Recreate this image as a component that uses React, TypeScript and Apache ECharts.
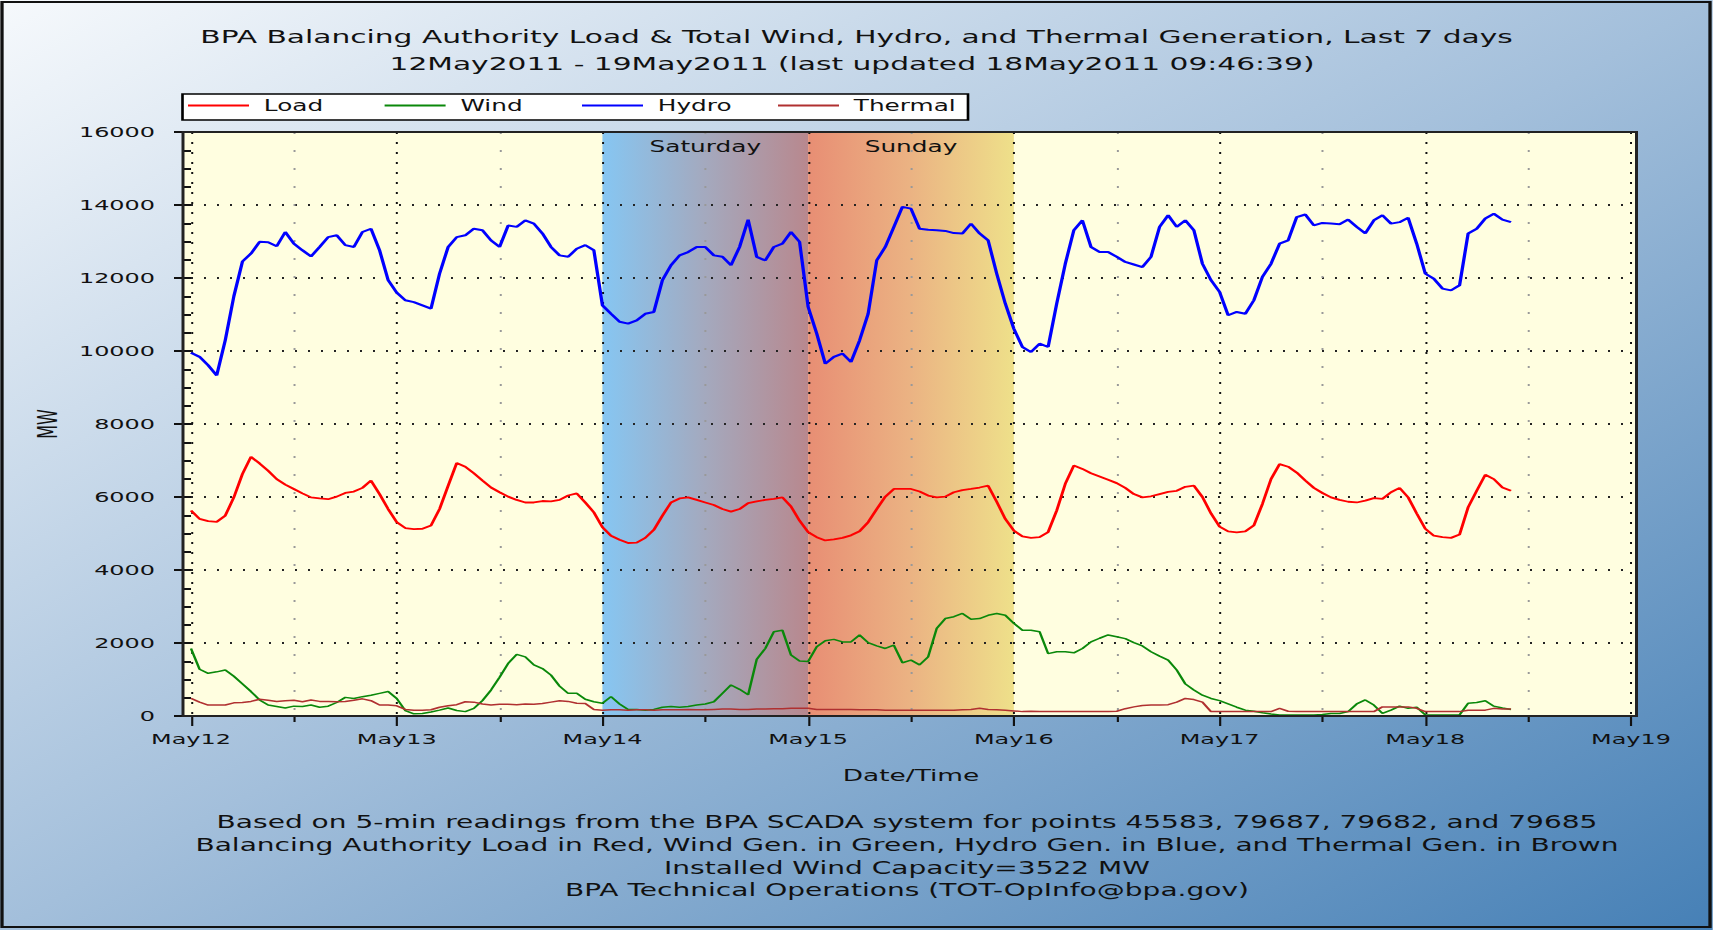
import React, { useEffect, useRef } from "react";
import * as echarts from "echarts";

// ---------------- data (hourly readings from 12 May 2011 00:00) ----------------
const DAY_LABELS = ["May12", "May13", "May14", "May15", "May16", "May17", "May18", "May19"];
const SERIES_NAMES = ["Load", "Wind", "Hydro", "Thermal"];
const WEEKEND = [
  { name: "Saturday", from: 2, to: 3 },
  { name: "Sunday", from: 3, to: 4 },
];

const LOAD = [
  5630, 5400, 5340, 5320, 5490, 5990, 6630, 7100, 6920, 6720,
  6490, 6340, 6220, 6100, 5990, 5960, 5940, 6010, 6110, 6150,
  6250, 6450, 6080, 5670, 5310, 5150, 5120, 5130, 5220, 5670,
  6310, 6930, 6830, 6650, 6450, 6260, 6130, 6010, 5920, 5850,
  5850, 5890, 5880, 5920, 6040, 6100, 5850, 5580, 5170, 4940,
  4830, 4740, 4750, 4880, 5100, 5490, 5850, 5960, 5990, 5920,
  5850, 5780, 5670, 5600, 5670, 5830, 5880, 5920, 5950, 5990,
  5740, 5350, 5040, 4900, 4810, 4840, 4880, 4950, 5060, 5310,
  5670, 6010, 6220, 6220, 6220, 6150, 6040, 5990, 6010, 6130,
  6190, 6220, 6260, 6310, 5870, 5400, 5080, 4920, 4880, 4900,
  5040, 5630, 6360, 6860, 6770, 6650, 6560, 6470, 6380, 6250,
  6080, 5990, 6020, 6080, 6140, 6170, 6280, 6310, 6000, 5550,
  5190, 5060, 5030, 5060, 5220, 5810, 6490, 6900, 6830, 6670,
  6450, 6250, 6110, 5990, 5920, 5870, 5850, 5900, 5970, 5950,
  6130, 6250, 5990, 5550, 5130, 4940, 4900, 4880, 4970, 5720,
  6170, 6610, 6490, 6260, 6170,
];

const WIND = [
  1850, 1280, 1170, 1210, 1260, 1090, 880, 670, 440, 300,
  260, 220, 270, 260, 300, 240, 270, 370, 510, 480,
  530, 570, 620, 670, 480, 150, 60, 70, 110, 160,
  220, 150, 120, 210, 420, 710, 1060, 1440, 1690, 1620,
  1400, 1300, 1120, 820, 620, 620, 460, 390, 350, 530,
  330, 180, 180, 160, 180, 240, 260, 240, 260, 300,
  330, 390, 620, 850, 730, 580, 1550, 1850, 2310, 2350,
  1670, 1510, 1490, 1900, 2060, 2100, 2030, 2030, 2220, 2010,
  1920, 1850, 1940, 1460, 1530, 1400, 1620, 2400, 2670, 2720,
  2810, 2650, 2670, 2760, 2810, 2760, 2540, 2350, 2350, 2310,
  1710, 1760, 1760, 1730, 1850, 2030, 2130, 2220, 2170, 2120,
  2010, 1920, 1760, 1640, 1530, 1260, 880, 710, 570, 480,
  420, 330, 240, 160, 130, 90, 55, 30, 30, 30,
  30, 30, 40, 70, 70, 120, 330, 440, 300, 70,
  160, 270, 210, 240, 30, 30, 30, 30, 30, 350,
  370, 420, 270, 220, 180,
];

const HYDRO = [
  9950, 9840, 9610, 9330, 10300, 11500, 12450, 12670, 12990, 12980,
  12870, 13260, 12940, 12760, 12590, 12850, 13120, 13170, 12900, 12850,
  13260, 13350, 12760, 11940, 11600, 11390, 11340, 11250, 11160, 12120,
  12850, 13120, 13170, 13350, 13310, 13030, 12850, 13440, 13400, 13580,
  13490, 13220, 12850, 12620, 12580, 12800, 12900, 12760, 11250, 11020,
  10800, 10750, 10840, 11020, 11070, 11940, 12350, 12620, 12710, 12850,
  12850, 12620, 12580, 12350, 12850, 13600, 12580, 12480, 12850, 12940,
  13260, 12990, 11210, 10480, 9650, 9840, 9930, 9700, 10290, 11020,
  12480, 12850, 13400, 13950, 13900, 13350, 13320, 13310, 13290, 13230,
  13220, 13490, 13220, 13030, 12120, 11300, 10610, 10110, 9970, 10200,
  10110, 11300, 12390, 13310, 13580, 12850, 12710, 12710, 12580, 12440,
  12370, 12300, 12580, 13400, 13720, 13400, 13580, 13310, 12390, 11940,
  11620, 10980, 11070, 11020, 11390, 12030, 12390, 12940, 13030, 13670,
  13740, 13440, 13510, 13490, 13470, 13600, 13400, 13220, 13580, 13720,
  13490, 13530, 13650, 12940, 12120, 11980, 11710, 11660, 11800, 13220,
  13350, 13630, 13760, 13600, 13530,
];

const THERMAL = [
  480, 380, 300, 300, 300, 360, 370, 400, 460, 430,
  400, 420, 430, 390, 440, 400, 400, 390, 400, 430,
  470, 420, 300, 300, 280, 180, 160, 160, 170, 240,
  280, 310, 390, 380, 330, 300, 320, 320, 310, 330,
  320, 340, 380, 420, 400, 350, 340, 180, 160, 170,
  170, 160, 170, 170, 160, 170, 170, 170, 180, 170,
  170, 180, 190, 190, 180, 180, 190, 190, 200, 200,
  210, 210, 210, 180, 180, 180, 180, 180, 170, 170,
  170, 160, 160, 160, 160, 160, 160, 160, 160, 160,
  170, 180, 210, 180, 170, 160, 140, 120, 130, 120,
  120, 120, 120, 120, 120, 120, 120, 120, 130, 200,
  250, 290, 300, 300, 310, 380, 480, 450, 380, 120,
  120, 120, 120, 120, 120, 120, 120, 210, 130, 120,
  120, 120, 120, 120, 120, 120, 120, 120, 120, 250,
  250, 250, 250, 210, 120, 120, 120, 120, 120, 160,
  160, 160, 210, 190, 190,
];

const TITLE_1 = "BPA Balancing Authority Load & Total Wind, Hydro, and Thermal Generation, Last 7 days";
const TITLE_2 = "12May2011 - 19May2011 (last updated 18May2011 09:46:39)";
const FOOTER = [
  "Based on 5-min readings from the BPA SCADA system for points 45583, 79687, 79682, and 79685",
  "Balancing Authority Load in Red, Wind Gen. in Green, Hydro Gen. in Blue, and Thermal Gen. in Brown",
  "Installed Wind Capacity=3522 MW",
  "BPA Technical Operations (TOT-OpInfo@bpa.gov)",
];

// ---------------- layout ----------------
const K = 1.65; // the reference picture is stretched horizontally
const FULL_W = 1713;
const H = 930;
const W = FULL_W / K;
const px = (v: number) => v / K;
const FONT = "DejaVu Sans";
const LEGEND_LEFT = [188, 384.6, 582, 778]; // full-width px of each legend item's start

const COLORS = { Load: "#ff0000", Wind: "#0a880a", Hydro: "#0000ff", Thermal: "#b03030" };

const toPoints = (arr: number[]) => arr.map((v, i) => [i / 24, v]);

function buildOption() {
  const satGrad = new echarts.graphic.LinearGradient(0, 0, 1, 0, [
    { offset: 0, color: "#86c6f2" },
    { offset: 0.5, color: "#a4a9be" },
    { offset: 1, color: "#b8888e" },
  ]);
  const sunGrad = new echarts.graphic.LinearGradient(0, 0, 1, 0, [
    { offset: 0, color: "#e88e74" },
    { offset: 0.5, color: "#ebb383" },
    { offset: 1, color: "#eee08a" },
  ]);
  const bandColors = [satGrad, sunGrad];

  const text = (x: number, y: number, t: string, size: number) => ({
    type: "text",
    x: px(x),
    y,
    silent: true,
    z: 50,
    style: {
      text: t,
      fontSize: size,
      fontFamily: FONT,
      fill: "#111",
      align: "center",
      verticalAlign: "middle",
      textAlign: "center",
      textVerticalAlign: "middle",
    },
  });

  const legends = SERIES_NAMES.map((name, i) => ({
    data: [name],
    left: px(LEGEND_LEFT[i]),
    top: 98,
    padding: 0,
    itemGap: 0,
    itemWidth: px(61),
    itemHeight: 2,
    icon: "rect",
    selectedMode: false,
    textStyle: {
      fontSize: 15,
      fontFamily: FONT,
      color: "#111",
      padding: [0, 0, 0, 4],
    },
  }));

  return {
    animation: false,
    backgroundColor: new echarts.graphic.LinearGradient(0, 0, 1, 1, [
      { offset: 0, color: "#f6f9fc" },
      { offset: 0.5, color: "#a3bfdb" },
      { offset: 1, color: "#4680b6" },
    ]),
    textStyle: { fontFamily: FONT },
    grid: {
      left: px(191),
      right: px(FULL_W - 1631),
      top: 132,
      bottom: H - 716,
      containLabel: false,
    },
    legend: legends,
    xAxis: {
      type: "value",
      min: 0,
      max: 7,
      interval: 1,
      z: 1.5,
      axisLine: { show: false },
      axisTick: { show: true, length: 10, lineStyle: { color: "#111", width: 1.3 } },
      minorTick: { show: true, splitNumber: 2, length: 6, lineStyle: { color: "#111", width: 1.3 } },
      axisLabel: {
        margin: 16,
        fontSize: 14.5,
        fontFamily: FONT,
        color: "#111",
        formatter: (v: number) => DAY_LABELS[Math.round(v)] ?? "",
      },
      splitLine: { show: true, lineStyle: { color: "#111", width: 1.2, type: [2, 8] } },
      minorSplitLine: { show: true, lineStyle: { color: "#999", width: 1.2, type: [2, 16] } },
      name: "Date/Time",
      nameLocation: "middle",
      nameGap: 51,
      nameTextStyle: { fontSize: 16, fontFamily: FONT, color: "#111" },
    },
    yAxis: {
      type: "value",
      min: 0,
      max: 16000,
      interval: 2000,
      offset: px(8),
      z: 1.5,
      axisLine: { show: false },
      axisTick: { show: true, length: px(17), lineStyle: { color: "#111", width: 2 } },
      minorTick: { show: true, splitNumber: 4, length: px(8), lineStyle: { color: "#111", width: 2 } },
      axisLabel: {
        margin: px(28),
        fontSize: 14.5,
        fontFamily: FONT,
        color: "#111",
        formatter: (v: number) => String(v),
      },
      splitLine: { show: true, lineStyle: { color: "#222", width: 2, type: [1.2, px(13) - 1.2] } },
      name: "MW",
      nameLocation: "middle",
      nameGap: 68,
      nameTextStyle: { fontSize: 16, fontFamily: FONT, color: "#111" },
    },
    graphic: [
      {
        type: "rect",
        silent: true,
        z: -10,
        shape: { x: px(183), y: 132, width: px(1636.5 - 183), height: 584 },
        style: { fill: "#fffee0" },
      },
      {
        type: "rect",
        silent: true,
        z: 100,
        shape: { x: px(183), y: 132, width: px(1636.5 - 183), height: 584 },
        style: { fill: "none", stroke: "#222", lineWidth: 1.8 },
      },
      {
        type: "rect",
        silent: true,
        z: -5,
        shape: { x: px(182.5), y: 94, width: px(968 - 182.5), height: 26 },
        style: { fill: "#ffffff", stroke: "#000", lineWidth: 1.6 },
      },
      {
        type: "rect",
        silent: true,
        z: 100,
        shape: { x: px(2), y: 2, width: px(1708), height: 925 },
        style: { fill: "none", stroke: "#111", lineWidth: 2 },
      },
      text(856.5, 37, TITLE_1, 18),
      text(852, 64, TITLE_2, 18),
      text(907, 822, FOOTER[0], 17),
      text(907, 845, FOOTER[1], 17),
      text(907, 868, FOOTER[2], 17),
      text(907, 890, FOOTER[3], 17),
    ],
    series: [
      {
        name: "weekend",
        type: "line",
        z: 1,
        silent: true,
        symbol: "none",
        data: [[0, 0]],
        lineStyle: { opacity: 0 },
        markArea: {
          silent: true,
          label: {
            show: true,
            position: "insideTop",
            distance: 7,
            color: "#111",
            fontSize: 15,
            fontFamily: FONT,
          },
          data: WEEKEND.map((d, i) => [
            { name: d.name, xAxis: d.from, itemStyle: { color: bandColors[i], opacity: 1 } },
            { xAxis: d.to },
          ]),
        },
      },
      ...[
        { name: "Load", values: LOAD, width: 1.8 },
        { name: "Wind", values: WIND, width: 1.5 },
        { name: "Hydro", values: HYDRO, width: 2 },
        { name: "Thermal", values: THERMAL, width: 1.5 },
      ].map((s) => ({
        name: s.name,
        type: "line",
        z: 3,
        symbol: "none",
        showSymbol: false,
        color: (COLORS as any)[s.name],
        lineStyle: { width: s.width, color: (COLORS as any)[s.name] },
        data: toPoints(s.values),
      })),
    ],
  };
}

export default function App() {
  const ref = useRef<HTMLDivElement>(null);
  useEffect(() => {
    document.body.style.margin = "0";
    document.body.style.overflow = "hidden";
    const chart = echarts.init(ref.current as HTMLDivElement, null, {
      renderer: "svg",
      width: W,
      height: H,
    });
    chart.setOption(buildOption() as any);
    return () => chart.dispose();
  }, []);
  return (
    <div
      ref={ref}
      style={{
        width: W + "px",
        height: H + "px",
        transform: `scaleX(${K})`,
        transformOrigin: "0 0",
      }}
    />
  );
}
